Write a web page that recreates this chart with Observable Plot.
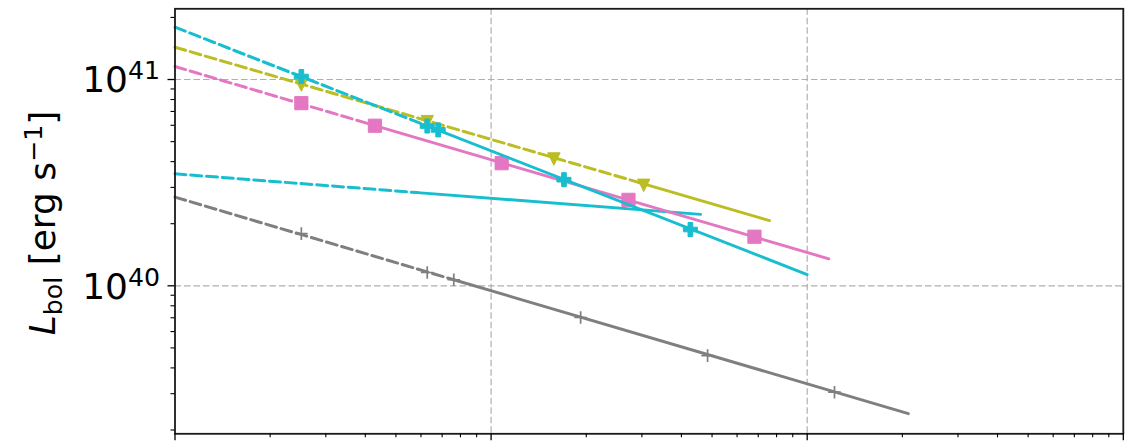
<!DOCTYPE html>
<html><head><meta charset="utf-8">
<script src="https://cdn.jsdelivr.net/npm/d3@7"></script>
<script src="https://cdn.jsdelivr.net/npm/@observablehq/plot@0.6"></script>
<style>html,body{margin:0;padding:0;background:#fff;overflow:hidden}</style>
</head><body><div id="chart"></div>
<script>
// ---- axis ticks (x labels are cropped out of the picture) ----
const xMajorTicks = [1, 10, 100, 1000];
const xMinorTicks = [2,3,4,5,6,7,8,9,20,30,40,50,60,70,80,90,200,300,400,500,600,700,800,900];
const yMajorTicks = [1e40, 1e41];
const yMinorTicks = [2e39,3e39,4e39,5e39,6e39,7e39,8e39,9e39,2e40,3e40,4e40,5e40,6e40,7e40,8e40,9e40,2e41];
const yExponents = {"40": "40", "41": "41"};

// ---- series: line (start, dashed->solid break, end) and markers ----
const grayLineT = [1, 7.62, 209];
const grayLineL = [2.69e40, 1.07e40, 2.40e39];
const grayT = [2.51, 6.28, 7.62, 19.2, 48.4, 122];
const grayL = [1.79e40, 1.16e40, 1.07e40, 7.02e39, 4.59e39, 3.05e39];

const cyanFlatLineT = [1, 5.85, 46];
const cyanFlatLineL = [3.49e40, 2.83e40, 2.22e40];

const pinkLineT = [1, 4.29, 117];
const pinkLineL = [1.156e41, 5.98e40, 1.352e40];
const pinkT = [2.51, 4.29, 10.8, 27.2, 68.1];
const pinkL = [7.68e40, 5.97e40, 3.93e40, 2.61e40, 1.73e40];

const oliveLineT = [1, 30.4, 76];
const oliveLineL = [1.434e41, 3.12e40, 2.07e40];
const oliveT = [2.51, 6.28, 15.8, 30.4];
const oliveL = [9.4e40, 6.25e40, 4.12e40, 3.07e40];

const cyanLineT = [1, 6.28, 100];
const cyanLineL = [1.793e41, 5.96e40, 1.134e40];
const cyanT = [2.51, 6.28, 6.80, 17.0, 42.7];
const cyanL = [1.034e41, 5.95e40, 5.70e40, 3.27e40, 1.875e40];

const colors = {gray: "#7f7f7f", cyan: "#17becf", pink: "#e377c2", olive: "#bcbd22"};

// ---- custom marker symbols (half-size = r) ----
const half = size => Math.sqrt(size / Math.PI);
const squareSym = {draw(c, s){ const h = half(s); c.rect(-h, -h, 2*h, 2*h); }};
const triDownSym = {draw(c, s){ const h = half(s); c.moveTo(0, h); c.lineTo(-h, -h); c.lineTo(h, -h); c.closePath(); }};
const plusFilledSym = {draw(c, s){ const h = half(s), a = h/3;
  c.moveTo(-a,-h); c.lineTo(a,-h); c.lineTo(a,-a); c.lineTo(h,-a); c.lineTo(h,a); c.lineTo(a,a);
  c.lineTo(a,h); c.lineTo(-a,h); c.lineTo(-a,a); c.lineTo(-h,a); c.lineTo(-h,-a); c.lineTo(-a,-a); c.closePath(); }};
const plusThinSym = {draw(c, s){ const h = half(s); c.moveTo(-h,0); c.lineTo(h,0); c.moveTo(0,-h); c.lineTo(0,h); }};

const zip = (T, L) => T.map((t, i) => ({t, L: L[i]}));
function lineMarks(T, L, color) {
  const pts = zip(T, L);
  return [
    Plot.line(pts.slice(0, 2), {x: "t", y: "L", stroke: color, strokeWidth: 3, strokeDasharray: "11,4.8"}),
    Plot.line(pts.slice(1), {x: "t", y: "L", stroke: color, strokeWidth: 2.9})
  ];
}
const gridStyle = {stroke: "#b0b0b0", strokeOpacity: 1, strokeWidth: 1.2, strokeDasharray: "6.5,3"};

const chart = Plot.plot({
  width: 1137, height: 441,
  marginLeft: 174.5, marginRight: 14.2, marginTop: 8.3, marginBottom: 7.7,
  style: {background: "white", fontFamily: "DejaVu Sans", fontSize: "36px", color: "black"},
  x: {type: "log", domain: [1, 1000], label: null},
  y: {type: "log", domain: [1.917e39, 2.202e41], label: null},
  marks: [
    Plot.gridX({ticks: [10, 100], ...gridStyle}),
    Plot.gridY({ticks: [1e40, 1e41], ...gridStyle}),
    ...lineMarks(grayLineT, grayLineL, colors.gray),
    Plot.dot(zip(grayT, grayL), {x: "t", y: "L", symbol: plusThinSym, r: 6.3, stroke: colors.gray, strokeWidth: 1.7, fill: "none"}),
    ...lineMarks(cyanFlatLineT, cyanFlatLineL, colors.cyan),
    ...lineMarks(pinkLineT, pinkLineL, colors.pink),
    Plot.dot(zip(pinkT, pinkL), {x: "t", y: "L", symbol: squareSym, r: 6.6, fill: colors.pink, stroke: colors.pink, strokeWidth: 1}),
    ...lineMarks(oliveLineT, oliveLineL, colors.olive),
    Plot.dot(zip(oliveT, oliveL), {x: "t", y: "L", symbol: triDownSym, r: 6.2, fill: colors.olive, stroke: colors.olive, strokeWidth: 1}),
    ...lineMarks(cyanLineT, cyanLineL, colors.cyan),
    Plot.dot(zip(cyanT, cyanL), {x: "t", y: "L", symbol: plusFilledSym, r: 7, fill: colors.cyan, stroke: colors.cyan, strokeWidth: 1}),
    Plot.frame({stroke: "#1a1a1a", strokeWidth: 1.8}),
    Plot.axisX({ticks: xMajorTicks, tickSize: 7, strokeWidth: 1.3, tickFormat: () => "", label: null}),
    Plot.axisX({ticks: xMinorTicks, tickSize: 4, strokeWidth: 1.1, tickFormat: () => "", label: null}),
    Plot.axisY({ticks: yMajorTicks, tickSize: 7, tickPadding: 8, strokeWidth: 1.3,
      tickFormat: d => yExponents[String(Math.round(Math.log10(d)))], label: null}),
    Plot.axisY({ticks: yMinorTicks, tickSize: 4, strokeWidth: 1.1, tickFormat: () => "", label: null})
  ]
});
document.getElementById("chart").appendChild(chart);

// ---- mathtext-like tick labels: 10^n ----
const svg = d3.select(chart);
svg.selectAll('g[aria-label="y-axis tick label"] text').each(function() {
  const exp = this.textContent;
  if (!exp) return;
  const t = d3.select(this);
  t.text(null).attr("y", 12.7).style("font-size", "36px").style("font-family", "DejaVu Sans").attr("fill", "black");
  t.append("tspan").text("10");
  t.append("tspan").attr("dy", -13).style("font-size", "25.2px").text(exp);
});

// ---- y-axis label ----
const lab = svg.append("text")
  .attr("transform", "translate(55,223) rotate(-90)")
  .attr("text-anchor", "middle")
  .attr("fill", "black")
  .style("font-family", "DejaVu Sans").style("font-size", "36px").style("white-space", "pre");
lab.append("tspan").style("font-style", "italic").text("L");
lab.append("tspan").attr("dy", 7).style("font-size", "25.2px").text("bol");
lab.append("tspan").attr("dy", -7).text(" [erg s");
lab.append("tspan").attr("dy", -13).style("font-size", "25.2px").text("\u22121");
lab.append("tspan").attr("dy", 13).text("]");
</script>
</body></html>
